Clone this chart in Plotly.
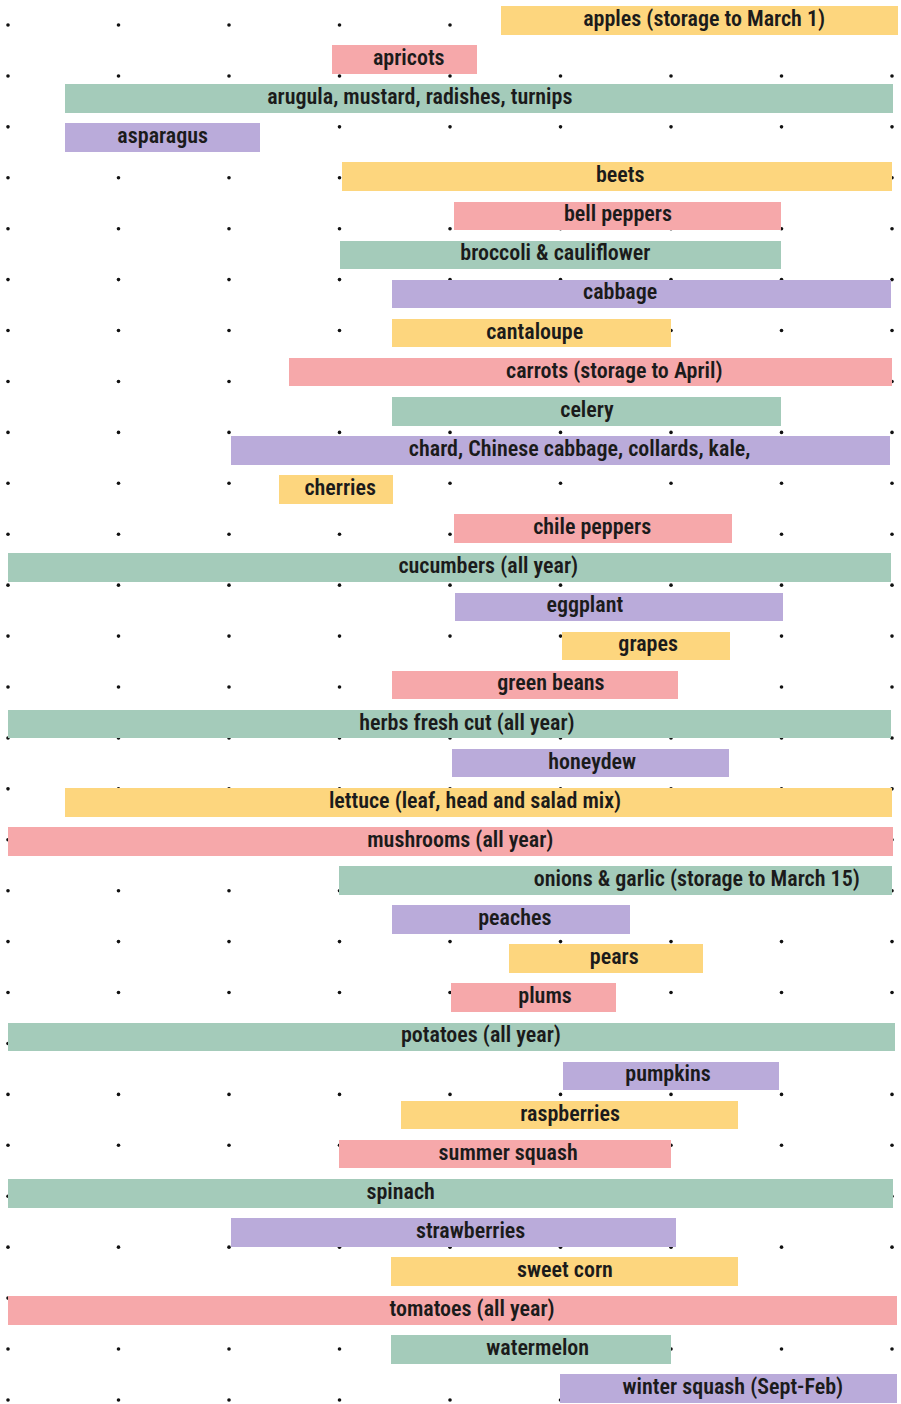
import plotly.graph_objects as go

# ---- data (x in months of the season axis, 0 = left edge, 12 = right edge) ----
produce = [
    "apples (storage to March 1)", "apricots", "arugula, mustard, radishes, turnips", "asparagus",
    "beets", "bell peppers", "broccoli & cauliflower", "cabbage",
    "cantaloupe", "carrots (storage to April)", "celery", "chard, Chinese cabbage, collards, kale,",
    "cherries", "chile peppers", "cucumbers (all year)", "eggplant",
    "grapes", "green beans", "herbs fresh cut (all year)", "honeydew",
    "lettuce (leaf, head and salad mix)", "mushrooms (all year)", "onions & garlic (storage to March 15)", "peaches",
    "pears", "plums", "potatoes (all year)", "pumpkins",
    "raspberries", "summer squash", "spinach", "strawberries",
    "sweet corn", "tomatoes (all year)", "watermelon", "winter squash (Sept-Feb)",
]
season_start = [
    6.69, 4.40, 0.77, 0.77,
    4.53, 6.05, 4.51, 5.21,
    5.21, 3.81, 5.21, 3.03,
    3.68, 6.05, 0.00, 6.07,
    7.52, 5.21, 0.00, 6.03,
    0.77, 0.00, 4.49, 5.21,
    6.80, 6.01, 0.00, 7.53,
    5.33, 4.49, 0.00, 3.03,
    5.20, 0.00, 5.20, 7.49,
]
season_end = [
    12.08, 6.37, 12.01, 3.42,
    12.00, 10.49, 10.49, 11.99,
    9.00, 12.00, 10.49, 11.97,
    5.23, 9.83, 11.99, 10.52,
    9.80, 9.09, 11.99, 9.79,
    12.00, 12.01, 12.00, 8.44,
    9.43, 8.25, 12.04, 10.47,
    9.91, 9.00, 12.01, 9.07,
    9.91, 12.07, 9.00, 12.07,
]
label_x = [
    9.45, 5.44, 5.59, 2.10,
    8.31, 8.28, 7.43, 8.31,
    7.15, 8.23, 7.86, 7.76,
    4.51, 7.93, 6.52, 7.83,
    8.69, 7.37, 6.23, 7.93,
    6.34, 6.14, 9.35, 6.88,
    8.23, 7.29, 6.42, 8.96,
    7.63, 6.79, 5.33, 6.28,
    7.56, 6.30, 7.19, 9.84,
]
palette = ["#FDD67E", "#F6A8AA", "#A4CBBA", "#BAABDA"]
dot_cols = [0, 1.5, 3, 4.5, 6, 7.5, 9, 10.5, 12]
dot_rows = list(range(28))

FONT = "Roboto Condensed, Open Sans Condensed, DejaVu Sans Condensed, sans-serif"

rows = list(range(len(produce)))
colors = [palette[i % 4] for i in rows]
lengths = [e - s for s, e in zip(season_start, season_end)]

fig = go.Figure()

# decorative dot grid (drawn underneath)
dx, dy = [], []
for r in dot_rows:
    for c in dot_cols:
        dx.append(c)
        dy.append(r)
fig.add_trace(go.Scatter(
    x=dx, y=dy, mode="markers", xaxis="x", yaxis="y",
    marker=dict(symbol="circle", size=3.6, color="#111111"),
    hoverinfo="skip", showlegend=False,
))

# season bars
fig.add_trace(go.Bar(
    y=rows, x=lengths, base=season_start, orientation="h",
    xaxis="x", yaxis="y2", width=0.73,
    marker=dict(color=colors, line=dict(width=0)),
    hoverinfo="skip", showlegend=False,
))

# labels
fig.add_trace(go.Scatter(
    x=label_x, y=rows, mode="text", text=produce, xaxis="x", yaxis="y2",
    textposition="middle center",
    textfont=dict(family=FONT, size=22, color="#1b1b1b", weight=600),
    hoverinfo="skip", showlegend=False,
))

fig.update_layout(
    width=901, height=1404,
    margin=dict(l=0, r=0, t=0, b=0),
    paper_bgcolor="white", plot_bgcolor="white",
    bargap=0,
    xaxis=dict(range=[-0.1086, 12.122], visible=False, fixedrange=True),
    yaxis=dict(range=[27.08, -0.491], visible=False, fixedrange=True),
    yaxis2=dict(range=[35.39, -0.519], visible=False, overlaying="y", anchor="x", fixedrange=True),
)

fig.write_html(
    "out.html",
    config={"displayModeBar": False, "staticPlot": True},
    post_script="document.body.style.margin='0';document.body.style.overflow='hidden';",
)
